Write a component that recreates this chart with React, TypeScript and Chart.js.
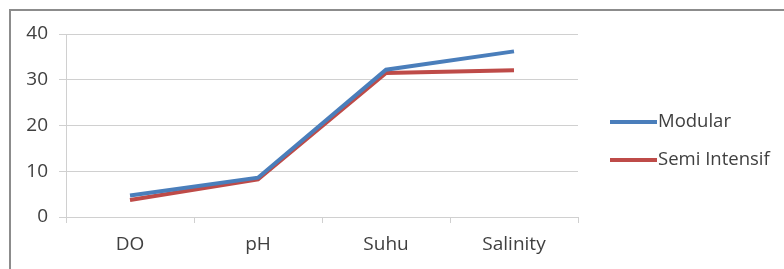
import React, { useEffect, useRef } from "react";
import { Chart, registerables } from "chart.js";

Chart.register(...registerables);

const categories = ["DO", "pH", "Suhu", "Salinity"];
const seriesNames = ["Modular", "Semi Intensif"];
const modular = [4.7, 8.6, 32.2, 36.2];
const semiIntensif = [3.7, 8.2, 31.5, 32.1];
const yTicks = [0, 10, 20, 30, 40];

const FONT = "'Open Sans', 'Liberation Sans', sans-serif";
const TEXT = "#404040";
const GRID = "#d0d0d0";
const COLORS = ["#4a7ebb", "#be4b48"];

const borderPlugin = {
  id: "frameBorder",
  beforeDraw(chart: any) {
    const ctx = chart.ctx;
    ctx.save();
    ctx.strokeStyle = "#8c8c8c";
    ctx.lineWidth = 2;
    ctx.beginPath();
    ctx.moveTo(10, chart.height);
    ctx.lineTo(10, 10);
    ctx.lineTo(chart.width, 10);
    ctx.stroke();
    ctx.restore();
  },
};

const legendPlugin = {
  id: "sideLegend",
  afterDraw(chart: any) {
    const ctx = chart.ctx;
    const area = chart.chartArea;
    ctx.save();
    chart.data.datasets.forEach((ds: any, i: number) => {
      const y = 122 + i * 38;
      const x0 = area.right + 32;
      ctx.strokeStyle = ds.borderColor;
      ctx.lineWidth = 4;
      ctx.beginPath();
      ctx.moveTo(x0, y);
      ctx.lineTo(x0 + 47, y);
      ctx.stroke();
      ctx.fillStyle = TEXT;
      ctx.font = `18.5px ${FONT}`;
      ctx.textAlign = "left";
      ctx.textBaseline = "middle";
      ctx.fillText(ds.label, x0 + 48, y);
    });
    ctx.restore();
  },
};

export default function App() {
  const ref = useRef<HTMLCanvasElement | null>(null);
  useEffect(() => {
    if (!ref.current) return;
    const chart = new Chart(ref.current, {
      type: "line",
      data: {
        labels: categories,
        datasets: [
          {
            label: seriesNames[0],
            data: modular,
            borderColor: COLORS[0],
            backgroundColor: COLORS[0],
            borderWidth: 4,
            pointRadius: 0,
            tension: 0,
          },
          {
            label: seriesNames[1],
            data: semiIntensif,
            borderColor: COLORS[1],
            backgroundColor: COLORS[1],
            borderWidth: 4,
            pointRadius: 0,
            tension: 0,
          },
        ],
      },
      options: {
        responsive: false,
        animation: false,
        devicePixelRatio: 1,
        layout: { padding: { left: 10, top: 34, right: 206, bottom: 0 } },
        plugins: { legend: { display: false }, tooltip: { enabled: false } },
        scales: {
          x: {
            offset: true,
            grid: {
              offset: true,
              drawOnChartArea: false,
              drawTicks: true,
              tickLength: 6,
              color: GRID,
            },
            border: { display: true, color: GRID, width: 1 },
            ticks: { color: TEXT, font: { family: FONT, size: 19 }, padding: 10 },
            afterFit(scale: any) {
              scale.height = 52;
            },
          },
          y: {
            min: 0,
            max: 40,
            afterBuildTicks(scale: any) {
              scale.ticks = yTicks.map((v) => ({ value: v }));
            },
            grid: { color: GRID, tickLength: 7, drawTicks: true },
            border: { display: true, color: GRID, width: 1 },
            ticks: { color: TEXT, font: { family: FONT, size: 19 }, padding: 11 },
            afterFit(scale: any) {
              scale.width = 56;
            },
          },
        },
      },
      plugins: [borderPlugin, legendPlugin],
    });
    return () => chart.destroy();
  }, []);
  return (
    <div style={{ position: "fixed", left: 0, top: 0, width: 784, height: 269, background: "#fff" }}>
      <canvas ref={ref} width={784} height={269} style={{ display: "block" }} />
    </div>
  );
}
